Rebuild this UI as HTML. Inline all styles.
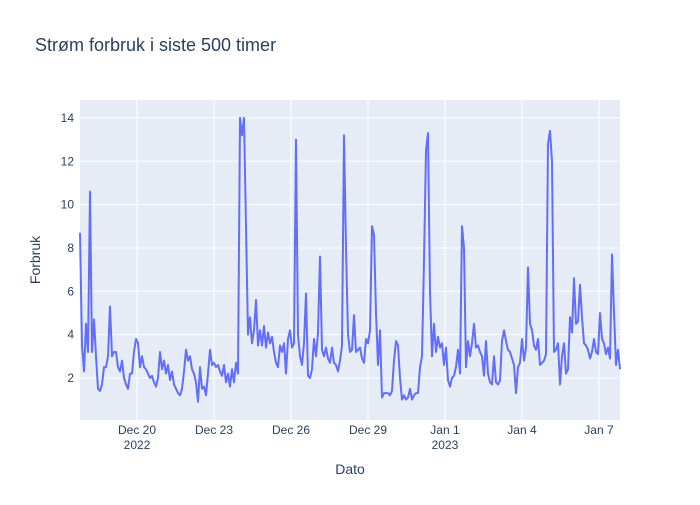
<!DOCTYPE html>
<html><head><meta charset="utf-8"><style>
body{margin:0;background:#fff;font-family:"Liberation Sans",Arial,sans-serif}
svg text{font-family:"Liberation Sans",Arial,sans-serif;fill:#2a3f5f}
</style></head><body>
<svg id="chart" width="700" height="500" viewBox="0 0 700 500">
<rect x="0" y="0" width="700" height="500" fill="#fff"/>
<text x="35" y="51" font-size="18">Strøm forbruk i siste 500 timer</text>
<rect x="80" y="100" width="540" height="320" fill="#e5ecf6"/>
<g id="grid"></g>
<g id="series"></g>
<g id="ticks"></g>
<text x="350" y="474" font-size="14" text-anchor="middle">Dato</text>
<text transform="translate(40,260) rotate(-90)" font-size="14" text-anchor="middle">Forbruk</text>
</svg>
<script>
const values=[8.7,3.5,2.3,4.5,3.2,10.6,3.2,4.7,3,1.5,1.4,1.7,2.5,2.5,3,5.3,3,3.2,3.2,2.5,2.3,2.8,2,1.7,1.5,2.2,2.2,3.2,3.8,3.6,2.5,3,2.5,2.4,2.2,2.0,2.1,1.8,1.6,2.0,3.2,2.4,2.8,2.2,2.6,1.9,2.3,1.7,1.5,1.3,1.2,1.5,2.3,3.3,2.8,3.0,2.4,2.2,1.8,0.9,2.5,1.5,1.6,1.2,2.2,3.3,2.6,2.7,2.5,2.6,2.3,2.1,2.6,1.8,2.2,1.6,2.4,1.8,2.7,2.2,14.0,13.2,14.0,9,4,4.8,3.6,4.2,5.6,3.5,4.2,3.5,
4.4,3.4,4.1,3.6,3.9,3.2,2.7,2.5,3.5,3.2,3.6,2.2,3.8,4.2,3.4,3.6,13.0,4.0,3.0,2.6,3.6,5.9,2.1,2.0,2.4,3.8,3.0,4.1,7.6,3.3,3.0,3.4,2.9,2.7,3.4,2.7,2.6,2.3,2.8,3.5,13.2,8,4.0,3.2,3.3,4.9,3.2,3.3,3.4,2.9,2.7,3.8,3.6,4.2,9.0,8.6,5,2.6,4.2,1.1,1.3,1.3,1.3,1.2,1.4,2.8,3.7,3.5,2.0,1.0,1.2,1.0,1.1,1.5,1.0,1.2,1.3,1.3,2.5,3.0,7.4,12.5,13.3,6,3.0,4.5,3.2,3.9,3.4,
3.6,2.6,3.4,1.9,1.6,2.0,2.1,2.5,3.3,2.2,9.0,8,2.5,3.7,3.0,3.6,4.5,3.4,3.5,3.2,3.0,2.1,3.7,2.2,1.8,1.7,3.0,1.8,1.7,1.9,3.7,4.2,3.7,3.3,3.2,2.9,2.6,1.3,2.5,2.7,3.8,2.8,3.4,7.1,4.5,4.2,3.5,3.3,3.8,2.6,2.7,2.8,3.1,12.8,13.4,12,3.2,3.3,3.6,1.7,3.0,3.6,2.2,2.4,4.8,4.1,6.6,4.5,4.6,6.3,4.8,3.6,3.5,3.3,2.9,3.2,3.8,3.2,3.1,5.0,3.8,3.6,3.1,3.4,2.9,7.7,5.0,2.6,3.3,2.4];
const yTicks=[2,4,6,8,10,12,14];
const xTickDates=["2022-12-20","2022-12-23","2022-12-26","2022-12-29","2023-01-01","2023-01-04","2023-01-07"];
const xTickLabels=["Dec 20","Dec 23","Dec 26","Dec 29","Jan 1","Jan 4","Jan 7"];
const xTickYears=["2022","","","","2023","",""];
const startTime=Date.UTC(2022,11,17,18,40);
const spanHours=505;

const NS="http://www.w3.org/2000/svg";
const t0=startTime, t1=startTime+spanHours*3600e3;
const times=values.map((v,i)=>t0+(t1-t0)*i/(values.length-1));
const X=t=>80+(t-t0)/(t1-t0)*540;
const Y=v=>421.3-v*21.67;
function mk(tag,attrs,parent){const e=document.createElementNS(NS,tag);for(const k in attrs)e.setAttribute(k,attrs[k]);parent.appendChild(e);return e;}
const grid=document.getElementById('grid'),ticks=document.getElementById('ticks'),series=document.getElementById('series');
yTicks.forEach(v=>{
  const l=mk('line',{x1:80,x2:620,y1:Y(v),y2:Y(v),stroke:'#fff','stroke-width':1},grid);
  
  
  const t=mk('text',{x:74,y:Y(v)+4,'font-size':12,'text-anchor':'end'},ticks);
  t.textContent=v;
  
  
});
xTickDates.forEach((d,i)=>{
  const p=d.split('-').map(Number);const x=X(Date.UTC(p[0],p[1]-1,p[2]));
  const l=mk('line',{x1:x,x2:x,y1:100,y2:420,stroke:'#fff','stroke-width':1},grid);
  
  
  const t=mk('text',{x:x,y:434,'font-size':12,'text-anchor':'middle'},ticks);
  t.textContent=xTickLabels[i];
  
  
  if(xTickYears[i]){
    const y=mk('text',{x:x,y:449,'font-size':12,'text-anchor':'middle'},ticks);
    y.textContent=xTickYears[i];
    
    
  }
});
const d=values.map((v,i)=>(i?'L':'M')+X(times[i]).toFixed(2)+','+Y(v).toFixed(2)).join('');
const path=mk('path',{d:d,fill:'none',stroke:'#636efa','stroke-width':2,'stroke-linejoin':'round'},series);


</script>
</body></html>
